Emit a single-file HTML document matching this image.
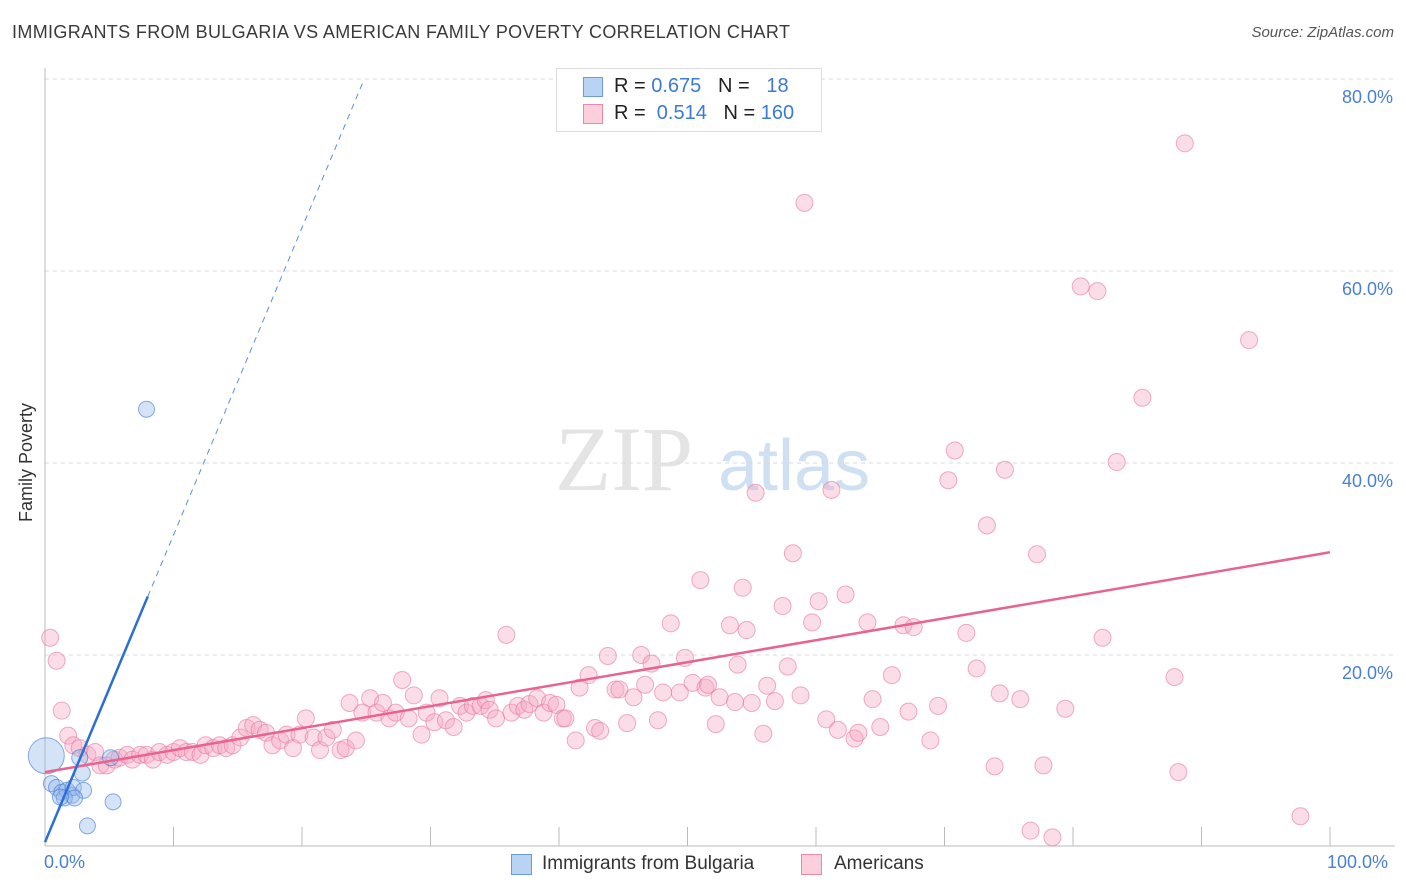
<!DOCTYPE html>
<html><head><meta charset="utf-8"><style>
body{margin:0;background:#fff;font-family:"Liberation Sans",sans-serif;}
#wrap{position:relative;width:1406px;height:892px;overflow:hidden;}
.t{position:absolute;white-space:nowrap;}
</style></head><body>
<div id="wrap">
<div class="t" style="left:12px;top:22px;font-size:18px;letter-spacing:0.35px;color:#3a3a3a;">IMMIGRANTS FROM BULGARIA VS AMERICAN FAMILY POVERTY CORRELATION CHART</div>
<div class="t" style="right:12px;top:24px;font-size:15px;font-style:italic;color:#555;">Source: ZipAtlas.com</div>
<svg id="svg" width="1406" height="892" style="position:absolute;left:0;top:0"></svg>
</div>
<script>
const blueX=[0.1,0.5,0.9,1.3,1.7,2.1,2.2,2.7,2.9,3.0,3.3,5.1,5.3,7.9,1.5,2.3,1.2];
const blueY=[9.5,6.6,6.2,5.7,5.9,5.4,6.2,9.3,7.7,5.9,2.2,9.3,4.7,45.6,5.1,5.1,5.2];
const blueR=[19,9,9,9,9,9,9,9,9,9,9,9,9,9,9,9,9];
const pinkPx=[[50,638],[56,661],[62,711],[68,736],[73,745],[80,748],[88,755],[95,752],[100,765],[107,765],[115,760],[120,758],[127,755],[133,760],[140,755],[147,755],[153,760],[160,752],[167,755],[173,752],[180,748],[186,752],[193,752],[200,755],[206,745],[213,748],[220,745],[226,748],[233,745],[240,738],[247,728],[253,725],[260,730],[266,733],[273,745],[280,740],[286,735],[293,748],[300,735],[306,718],[313,738],[320,750],[326,738],[333,730],[340,750],[346,748],[350,703],[356,740],[363,713],[370,698],[376,713],[383,703],[390,718],[396,713],[402,680],[409,718],[414,695],[422,735],[427,713],[434,722],[440,698],[446,720],[453,727],[460,706],[466,713],[473,706],[480,706],[486,700],[490,710],[496,718],[506,635],[512,713],[518,706],[524,710],[530,704],[537,698],[543,713],[550,703],[556,705],[563,718],[566,718],[576,740],[580,688],[588,675],[595,728],[600,731],[608,656],[615,690],[620,690],[627,723],[633,697],[641,655],[645,685],[652,664],[658,720],[663,692],[671,623],[680,692],[685,658],[692,683],[700,580],[705,688],[708,685],[716,724],[720,697],[730,625],[735,702],[738,665],[743,588],[747,630],[752,703],[755,493],[763,734],[767,686],[775,701],[782,606],[788,667],[793,553],[800,695],[805,203],[812,622],[819,601],[826,719],[832,490],[838,730],[845,595],[855,739],[858,733],[868,622],[872,699],[880,727],[892,675],[903,625],[908,712],[914,627],[930,740],[938,706],[948,480],[955,451],[966,633],[977,668],[987,525],[995,766],[1000,693],[1005,470],[1020,699],[1030,831],[1037,554],[1043,765],[1052,837],[1065,709],[1081,286],[1097,291],[1103,638],[1117,462],[1143,398],[1175,677],[1178,772],[1185,143],[1249,340],[1300,816]];
const pinkX=pinkPx.map(p=>+((p[0]-45)/12.85).toFixed(1));
const pinkY=pinkPx.map(p=>+((847-p[1])/9.6).toFixed(1));
const blueTrend=[0.5,3.2];
const pinkTrend=[7.8,30.7];
const yTicks=[20,40,60,80];
const X=v=>45+v*12.85, Y=v=>847-v*9.6;
const svg=document.getElementById('svg');
const NS='http://www.w3.org/2000/svg';
function mk(tag,attrs,parent){const e=document.createElementNS(NS,tag);for(const k in attrs)e.setAttribute(k,attrs[k]);(parent||svg).appendChild(e);return e;}
let wm=mk('text',{x:555,y:490,'font-size':92,'font-family':'Liberation Serif',fill:'#e4e4e4'});wm.textContent='ZIP';


let wm2=mk('text',{x:718,y:490,'font-size':72,'font-family':'Liberation Sans',fill:'#cfe0f3'});wm2.textContent='atlas';


yTicks.forEach(t=>{
 const l=mk('line',{x1:45,x2:1395,y1:Y(t),y2:Y(t),stroke:'#dadada','stroke-dasharray':'4,4'});
 
 
 const tx=mk('text',{x:1393,y:Y(t)+24,'text-anchor':'end','font-size':18,fill:'#4a7fd6'});tx.textContent=t.toFixed(1)+'%';
 
 
});
mk('line',{x1:45,x2:45,y1:68,y2:846,stroke:'#bbb'});
mk('line',{x1:45,x2:1395,y1:846,y2:846,stroke:'#bbb'});
for(let i=1;i<=10;i++){const tk=mk('line',{x1:X(i*10),x2:X(i*10),y1:827,y2:846,stroke:'#bbb'});
 
 }
pinkX.forEach((x,i)=>{const c=mk('circle',{cx:X(x),cy:Y(pinkY[i]),r:8.5,fill:'rgba(245,170,195,0.4)',stroke:'rgba(230,120,160,0.6)','stroke-width':1});
 
 });
blueX.forEach((x,i)=>{const c=mk('circle',{cx:X(x),cy:Y(blueY[i]),r:blueR[i]-1,fill:'rgba(150,185,235,0.4)',stroke:'rgba(60,120,210,0.6)','stroke-width':1});
 
 });
let pl=mk('line',{x1:X(0),y1:Y(pinkTrend[0]),x2:X(100),y2:Y(pinkTrend[1]),stroke:'#e8638f','stroke-width':2.5});


const bx=v=>blueTrend[0]+blueTrend[1]*v;
let bl=mk('line',{x1:X(0),y1:Y(bx(0)),x2:X(8),y2:Y(bx(8)),stroke:'#2a6fd6','stroke-width':2.5});


let bd=mk('line',{x1:X(8),y1:Y(bx(8)),x2:X(24.7),y2:Y(bx(24.7)),stroke:'#5a8fdc','stroke-width':1,'stroke-dasharray':'6,5'});


</script>
<div class="t" style="left:44px;top:852px;font-size:18px;color:#4a7fd6">0.0%</div>
<div class="t" style="left:1327px;top:852px;font-size:18px;color:#4a7fd6">100.0%</div>
<div class="t" style="left:16px;top:522px;font-size:18px;color:#333;transform:rotate(-90deg);transform-origin:0 0">Family Poverty</div>
<div style="position:absolute;left:556px;top:68px;width:264px;height:62px;border:1px solid #ddd;background:#fff;font-size:20px;color:#222">
 <div style="position:absolute;left:26px;top:8px;width:18px;height:18px;background:#b9d3f5;border:1px solid #6a9be0"></div>
 <div class="t" style="left:57px;top:6px">R = <span style="color:#3c7ad8">0.675</span>&nbsp;&nbsp;&nbsp;N = &nbsp;&nbsp;<span style="color:#3c7ad8">18</span></div>
 <div style="position:absolute;left:26px;top:35px;width:18px;height:18px;background:#fbcfdc;border:1px solid #e88aa8"></div>
 <div class="t" style="left:57px;top:33px">R = &nbsp;<span style="color:#3c7ad8">0.514</span>&nbsp;&nbsp;&nbsp;N = <span style="color:#3c7ad8">160</span></div>
</div>
<div style="position:absolute;left:511px;top:854px;width:19px;height:19px;background:#b9d3f5;border:1px solid #6a9be0"></div>
<div class="t" style="left:542px;top:853px;font-size:19px;color:#333">Immigrants from Bulgaria</div>
<div style="position:absolute;left:801px;top:854px;width:19px;height:19px;background:#fbcfdc;border:1px solid #e88aa8"></div>
<div class="t" style="left:834px;top:853px;font-size:19px;color:#333">Americans</div>
</body></html>
